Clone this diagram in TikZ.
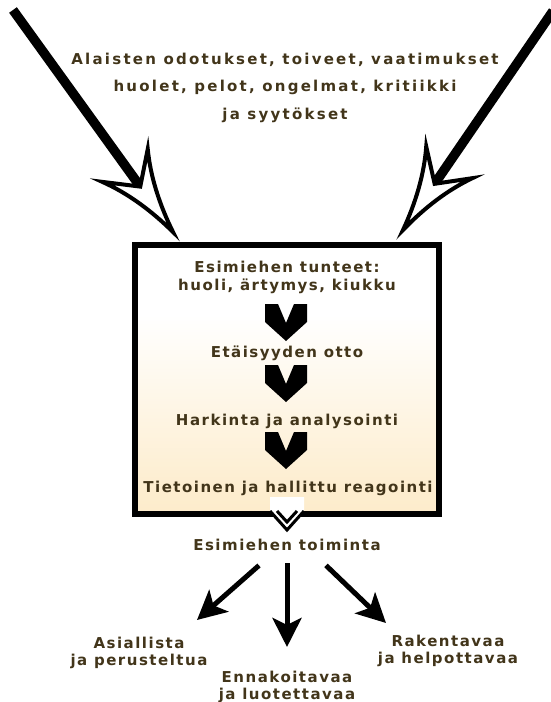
\documentclass[tikz,border=0pt]{standalone}
\usepackage{fontspec}
\usepackage{xcolor}
\usetikzlibrary{arrows.meta, positioning}
\setmainfont{DejaVu Sans}
\newfontfamily\widefont[LetterSpace=15]{DejaVu Sans}
\newfontfamily\tightfont[LetterSpace=10]{DejaVu Sans}
\definecolor{inkbrown}{HTML}{42351A}
\definecolor{peach}{HTML}{FCE4B6}
\pgfdeclareverticalshading{mindfade}{100bp}{color(0bp)=(peach); color(30bp)=(peach!65!white); color(62bp)=(white); color(100bp)=(white)}

\begin{document}
\begin{tikzpicture}[
    x=1pt, y=1pt,
    every node/.style={text=inkbrown, inner sep=0pt},
    wide/.style={font=\widefont\bfseries\fontsize{15}{27.5}\selectfont, align=center},
    stage/.style={font=\tightfont\bfseries\fontsize{15}{18}\selectfont, align=center},
    result/.style={font=\tightfont\bfseries\fontsize{15}{17}\selectfont, align=center},
    frame/.style={draw=black, line width=6pt, shading=mindfade,
                  minimum width=304pt, minimum height=269pt},
    arrow/.style={-{Stealth[length=29pt, width=29pt, inset=7pt]}, line width=5pt},
    shaft/.style={line width=9.5pt, shorten >=54pt},
    bighead/.pic={
        \draw[line width=4pt, fill=white, line join=miter]
            (0,0) .. controls (-30,5) and (-58,14) .. (-82,28) -- (-56,0)
            -- (-82,-28) .. controls (-58,-14) and (-30,-5) .. (0,0) -- cycle;
    },
    chevron/.pic={
        \fill (-21,0) -- (-8,0) -- (0,-19) -- (8,0) -- (21,0) -- (21,-18)
            -- (0,-37) -- (-21,-18) -- cycle;
    },
    openchevron/.pic={
        \fill[white] (-17,0) -- (17,0) -- (17,-14) -- (0,-34) -- (-17,-14) -- cycle;
        \draw[line width=3pt] (-17,-14) -- (0,-33) -- (17,-14);
        \draw[line width=3pt] (-10,-14) -- (0,-25) -- (10,-14);
    },
]
\useasboundingbox (0,0) rectangle (550,-702);

\node[wide] (demands) at (285,-87.5) {Alaisten odotukset, toiveet, vaatimukset\\huolet, pelot, ongelmat, kritiikki\\ja syytökset};

\coordinate (srcL) at (13,-10);
\coordinate (tipL) at (173,-232);
\coordinate (srcR) at (553,-11);
\coordinate (tipR) at (403,-230);
\draw[shaft] (srcL) -- (tipL);
\draw[shaft] (srcR) -- (tipR);
\pic[rotate=-54.2] at (tipL) {bighead};
\pic[rotate=-124.4] at (tipR) {bighead};

\node[frame] (mind) at (287,-379.5) {};

\node[stage] (feel) at (287,-277.5) {Esimiehen tunteet:\\huoli, ärtymys, kiukku};
\node[stage, anchor=base] (distance) at (287,-357) {Etäisyyden otto};
\node[stage, anchor=base] (consider) at (287,-425) {Harkinta ja analysointi};
\node[stage, anchor=base] (react) at (288,-492) {Tietoinen ja hallittu reagointi};
\pic at (286,-304) {chevron};
\pic at (286,-365) {chevron};
\pic at (286,-432) {chevron};
\pic at (287,-497) {openchevron};

\node[result, anchor=base] (action) at (287,-550) {Esimiehen toiminta};
\node[result] (factual) at (139,-653) {Asiallista\\ja perusteltua};
\node[result] (predict) at (287,-687) {Ennakoitavaa\\ja luotettavaa};
\node[result] (construct) at (448,-651) {Rakentavaa\\ja helpottavaa};

\draw[arrow] ([xshift=-28pt, yshift=-15pt]action.south) -- ([xshift=58pt, yshift=17pt]factual.north);
\draw[arrow] ([yshift=-13pt]action.south) -- ([yshift=24pt]predict.north);
\draw[arrow] ([xshift=39pt, yshift=-15pt]action.south) -- ([xshift=-62pt, yshift=12pt]construct.north);
\end{tikzpicture}
\end{document}
